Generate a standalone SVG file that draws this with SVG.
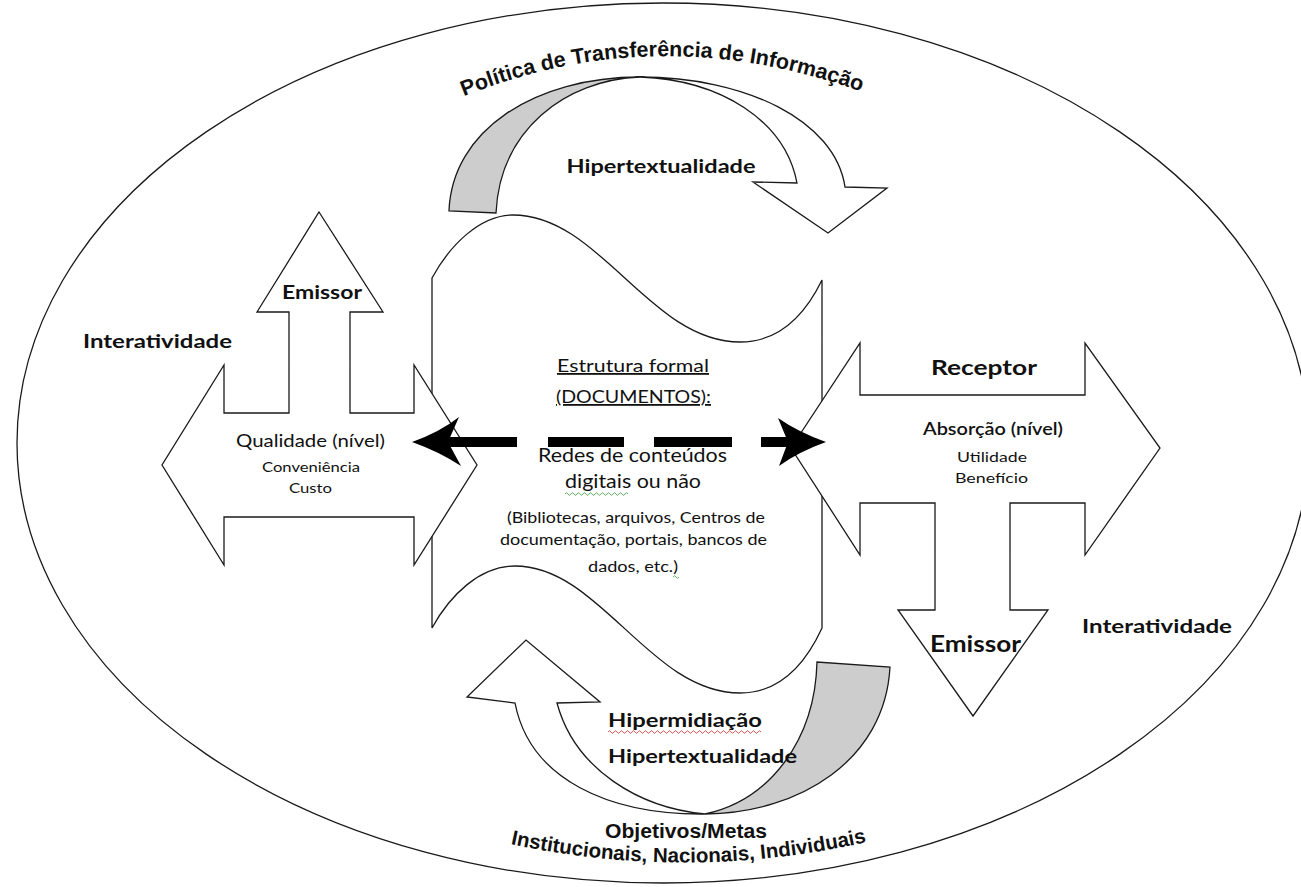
<svg xmlns="http://www.w3.org/2000/svg" width="1301" height="887" viewBox="0 0 1301 887">
<style>
.shape{fill:#fff;stroke:#1a1a1a;stroke-width:1.3;stroke-linejoin:miter}
.gray{fill:#cdcdcd;stroke:#1a1a1a;stroke-width:1.3}
.t{font-family:Lato,"Open Sans","Liberation Sans",sans-serif;fill:#111;text-anchor:middle}
.b{font-weight:700}
.wa{font-family:"Liberation Sans",Arial,sans-serif;font-weight:700;fill:#111}
.dash{fill:#000}
.sqg{fill:none;stroke:#3a9a3a;stroke-width:0.8}
.sqr{fill:none;stroke:#d03030;stroke-width:0.8}
</style>
<defs>
<path id="arcTop" d="M455,100 Q657,15 870,95"/>
<path id="arcBot" d="M497,841 Q688,885 880,839"/>
</defs>
<rect width="1301" height="887" fill="#fff"/>

<g id="frame">
<ellipse cx="663" cy="443" rx="646" ry="440" fill="none" stroke="#1a1a1a" stroke-width="1.3"/>
<text class="wa" font-size="21.5"><textPath href="#arcTop" startOffset="50%" text-anchor="middle">Política de Transferência de Informação</textPath></text>
<text class="wa" x="686" y="838" font-size="20" text-anchor="middle" textLength="162" lengthAdjust="spacingAndGlyphs">Objetivos/Metas</text>
<text class="wa" font-size="20.5"><textPath href="#arcBot" startOffset="50%" text-anchor="middle">Institucionais, Nacionais, Individuais</textPath></text>
</g>

<g id="curved-arrow-top">
<path class="gray" d="M449,211 C452,130 535,77 640,77 C565,80 500,130 496,213 Z"/>
<path class="shape" d="M640,77 C745,77 835,120 845,187 L887,188 L828,233 L753,182 L797,183 C785,120 720,80 640,77 Z"/>
<text class="t b" x="661" y="173" font-size="19" textLength="189" lengthAdjust="spacingAndGlyphs">Hipertextualidade</text>
</g>

<g id="curved-arrow-bottom">
<path class="gray" d="M705,814 C800,813 885,760 890,667 L817,662 C815,740 770,800 705,814 Z"/>
<path class="shape" d="M557,703 L600,702 L526,640 L467,697 L515,703 C530,780 610,815 705,814 C640,808 575,770 557,703 Z"/>
<text class="t b" x="685" y="727" font-size="19" textLength="154" lengthAdjust="spacingAndGlyphs">Hipermidiação</text>
<path class="sqr" d="M608,732 q1.5,-2.5 3,0 t3,0 t3,0 t3,0 t3,0 t3,0 t3,0 t3,0 t3,0 t3,0 t3,0 t3,0 t3,0 t3,0 t3,0 t3,0 t3,0 t3,0 t3,0 t3,0 t3,0 t3,0 t3,0 t3,0 t3,0 t3,0 t3,0 t3,0 t3,0 t3,0 t3,0 t3,0 t3,0 t3,0 t3,0 t3,0 t3,0 t3,0 t3,0 t3,0 t3,0 t3,0 t3,0 t3,0 t3,0 t3,0 t3,0 t3,0 t3,0 t3,0 t3,0"/>
<text class="t b" x="702.5" y="763" font-size="19" textLength="189" lengthAdjust="spacingAndGlyphs">Hipertextualidade</text>
</g>

<g id="wave-documentos">
<path class="shape" d="M432,278 C450,245 480,215 513,215 C600,215 650,342 740,342 C780,342 805,315 822,280 L822,628 C805,665 780,693 740,693 C650,693 600,566 515,566 C480,566 450,595 432,628 Z"/>
<text class="t" x="633" y="372" font-size="18" text-decoration="underline" textLength="152" lengthAdjust="spacingAndGlyphs">Estrutura formal</text>
<text class="t" x="633.5" y="403" font-size="18" text-decoration="underline" textLength="155" lengthAdjust="spacingAndGlyphs">(DOCUMENTOS):</text>
<text class="t" x="632.5" y="462" font-size="20" textLength="189" lengthAdjust="spacingAndGlyphs">Redes de conteúdos</text>
<text class="t" x="633" y="488" font-size="20" textLength="136" lengthAdjust="spacingAndGlyphs">digitais ou não</text>
<path class="sqg" d="M565,494 q1.5,-2.5 3,0 t3,0 t3,0 t3,0 t3,0 t3,0 t3,0 t3,0 t3,0 t3,0 t3,0 t3,0 t3,0 t3,0 t3,0 t3,0 t3,0 t3,0 t3,0 t3,0 t3,0"/>
<text class="t" x="636" y="523" font-size="15" textLength="258" lengthAdjust="spacingAndGlyphs">(Bibliotecas, arquivos, Centros de</text>
<text class="t" x="633.5" y="545" font-size="15" textLength="267" lengthAdjust="spacingAndGlyphs">documentação, portais, bancos de</text>
<text class="t" x="633" y="572" font-size="15" textLength="90" lengthAdjust="spacingAndGlyphs">dados, etc.)</text>
<path class="sqg" d="M673,577 q1.5,-2.5 3,0 t3,0"/>
</g>

<g id="cross-arrow-left">
<path class="shape" d="M319,212 L383,312 L350,312 L350,413 L414,413 L414,365 L477,465 L414,565 L414,517 L224,517 L224,565 L162,465 L224,365 L224,413 L289,413 L289,312 L257,312 Z"/>
<text class="t b" x="322" y="299" font-size="19" textLength="80" lengthAdjust="spacingAndGlyphs">Emissor</text>
<text class="t" x="310.5" y="447" font-size="17" textLength="149" lengthAdjust="spacingAndGlyphs">Qualidade (nível)</text>
<text class="t" x="311" y="472" font-size="14" textLength="98" lengthAdjust="spacingAndGlyphs">Conveniência</text>
<text class="t" x="310.5" y="493" font-size="14" textLength="43" lengthAdjust="spacingAndGlyphs">Custo</text>
</g>
<g id="label-interatividade-left">
<text class="t b" x="157.5" y="348" font-size="19" textLength="149" lengthAdjust="spacingAndGlyphs">Interatividade</text>
</g>

<g id="cross-arrow-right">
<path class="shape" d="M791,448 L860,343 L860,395 L1085,395 L1085,343 L1160,448 L1085,555 L1085,503 L1010,503 L1010,610 L1048,610 L973,716 L898,610 L935,610 L935,503 L860,503 L860,555 Z"/>
<text class="t b" x="984" y="375" font-size="20" textLength="106" lengthAdjust="spacingAndGlyphs">Receptor</text>
<text class="t" x="993" y="435" font-size="17" font-weight="600" textLength="140" lengthAdjust="spacingAndGlyphs">Absorção (nível)</text>
<text class="t" x="992" y="462" font-size="14" textLength="70" lengthAdjust="spacingAndGlyphs">Utilidade</text>
<text class="t" x="991.5" y="483" font-size="14" textLength="73" lengthAdjust="spacingAndGlyphs">Benefício</text>
<text class="t b" x="975.5" y="652" font-size="22" textLength="91" lengthAdjust="spacingAndGlyphs">Emissor</text>
</g>
<g id="label-interatividade-right">
<text class="t b" x="1157" y="633" font-size="19" textLength="150" lengthAdjust="spacingAndGlyphs">Interatividade</text>
</g>

<g id="connectors">
<rect class="dash" x="445" y="437" width="72" height="10"/>
<rect class="dash" x="548" y="437" width="76" height="10"/>
<rect class="dash" x="654" y="437" width="78" height="10"/>
<rect class="dash" x="761" y="437" width="30" height="10"/>
<path class="dash" d="M412,442 Q440,432 459,417 L448,442 L461,466 Q440,452 412,442 Z"/>
<path class="dash" d="M826,442 Q798,432 778,418 L788,442 L779,466 Q798,452 826,442 Z"/>
</g>
</svg>
